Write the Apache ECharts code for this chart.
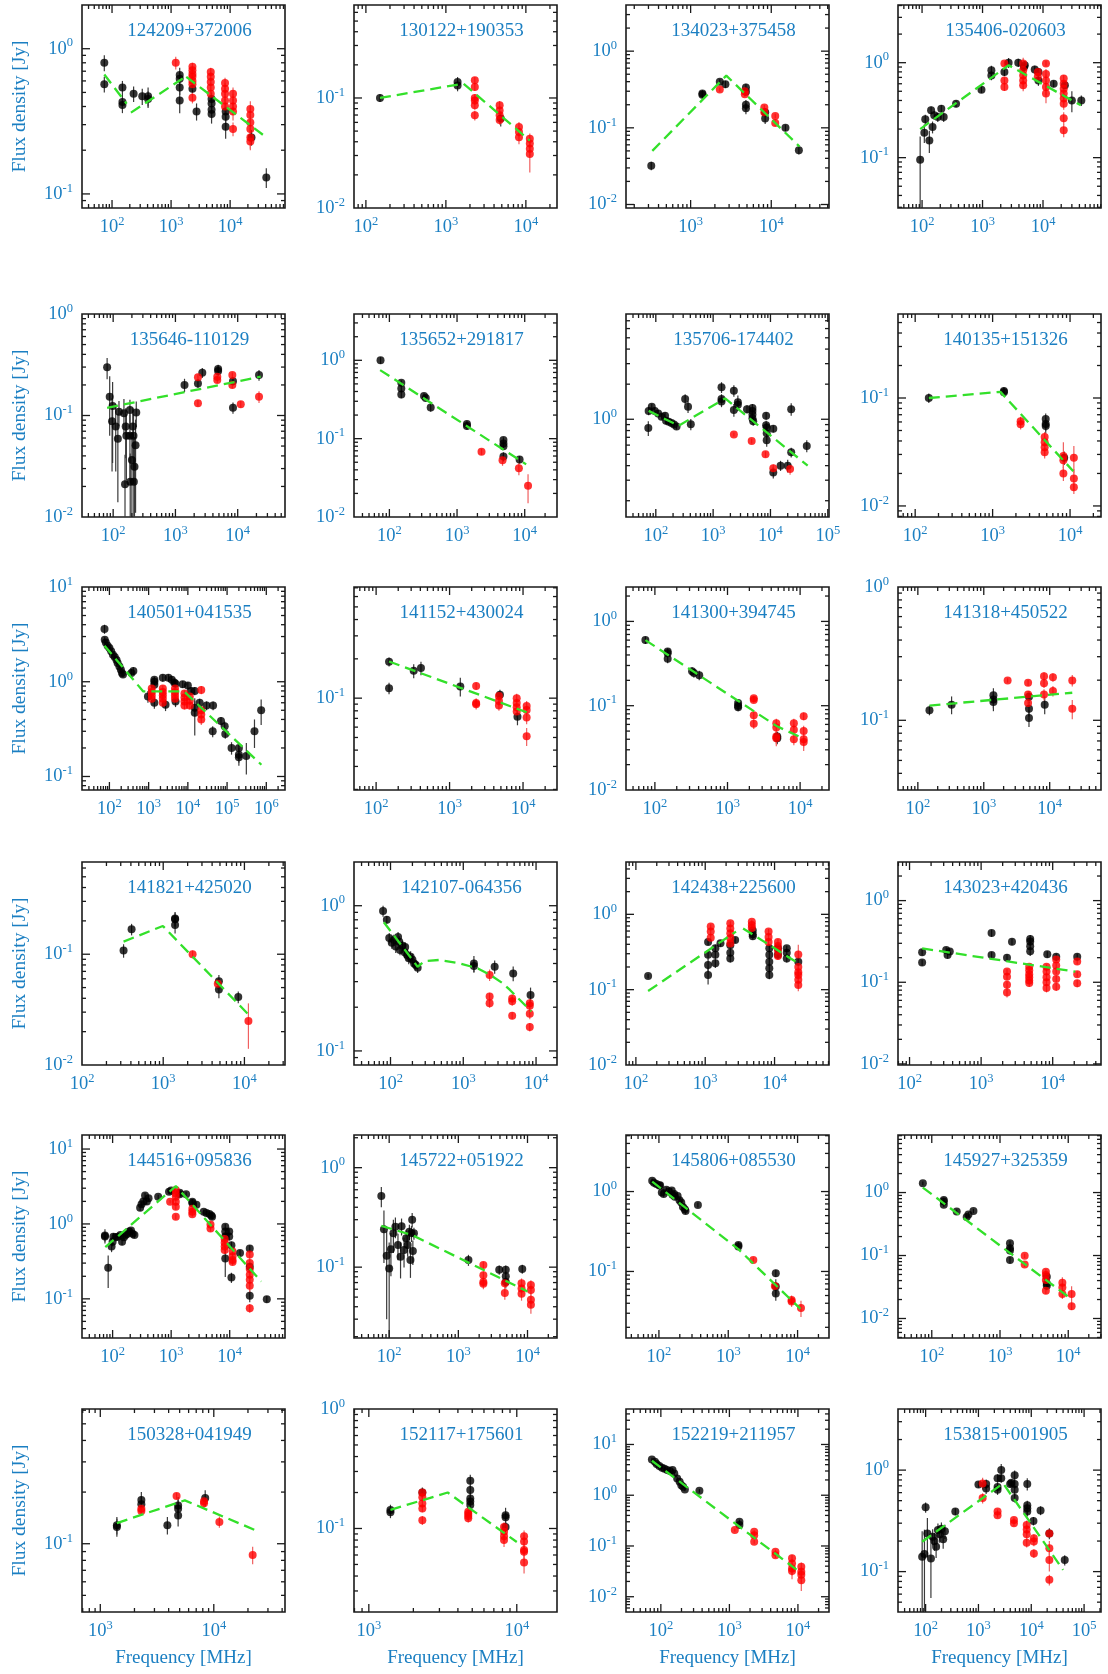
<!DOCTYPE html>
<html>
<head>
<meta charset="utf-8">
<script src="https://cdn.jsdelivr.net/npm/echarts@6/dist/echarts.min.js"></script>
<style>
html,body{margin:0;padding:0;background:#fff;}
#chart{width:1108px;height:1674px;}
</style>
</head>
<body>
<div id="chart"></div>
<script>
// Radio spectra (flux density vs frequency) of 24 sources.
// Each point: [frequency MHz, flux density Jy, error Jy]. Fits: list of polyline segments.

const titles = ['124209+372006','130122+190353','134023+375458','135406-020603',
  '135646-110129','135652+291817','135706-174402','140135+151326',
  '140501+041535','141152+430024','141300+394745','141318+450522',
  '141821+425020','142107-064356','142438+225600','143023+420436',
  '144516+095836','145722+051922','145806+085530','145927+325359',
  '150328+041949','152117+175601','152219+211957','153815+001905'];

const xRanges = [[31,85000],[71,24500],[158,52000],[40,91000],
  [31.6,57500],[30,30000],[30.2,105000],[60,25100],
  [20,3.0e6],[50,29000],[40,25000],[50,60000],
  [100,31600],[31.5,19400],[72,61000],[69,47300],
  [30,88000],[31,26700],[33.5,28400],[32,30200],
  [690,42400],[794,18700],[31,28400],[30,209000]];

const yRanges = [[0.08,2.0],[0.01,0.70],[0.009,4.0],[0.0295,4.05],
  [0.01,1.0],[0.01,3.9],[0.145,8.0],[0.0079,0.6],
  [0.072,10.0],[0.0198,0.71],[0.01,2.56],[0.03,1.0],
  [0.01,0.68],[0.08,2.0],[0.01,4.95],[0.0097,2.97],
  [0.03,15.4],[0.0194,2.13],[0.0147,5.1],[0.0049,8.2],
  [0.04,0.61],[0.02,1.0],[0.005,50],[0.04,4.0]];

const black1 = [[74,0.80,0.10],[74,0.57,0.07],[150,0.54,0.06],[150,0.43,0.05],[150,0.41,0.05],[232,0.49,0.06],[325,0.47,0.06],[408,0.47,0.07],[408,0.45,0.06],[1400,0.66,0.08],[1400,0.62,0.07],[1400,0.54,0.06],[1400,0.44,0.08],[2300,0.53,0.05],[2700,0.37,0.05],[4850,0.45,0.05],[4850,0.42,0.05],[4850,0.38,0.05],[4850,0.355,0.05],[8400,0.37,0.05],[8400,0.34,0.05],[8400,0.29,0.05],[23000,0.245,0.03],[41000,0.13,0.02]];
const red1 = [[1200,0.80,0.08],[2300,0.75,0.05],[2300,0.71,0.05],[2300,0.67,0.05],[2300,0.64,0.05],[2300,0.60,0.05],[2300,0.57,0.05],[2300,0.46,0.04],[4700,0.69,0.05],[4700,0.64,0.05],[4700,0.59,0.05],[4700,0.54,0.05],[4700,0.49,0.05],[8200,0.58,0.05],[8200,0.53,0.05],[8200,0.49,0.05],[8200,0.44,0.05],[8200,0.40,0.05],[11200,0.49,0.05],[11200,0.44,0.05],[11200,0.40,0.05],[11200,0.37,0.05],[11200,0.28,0.03],[22000,0.385,0.05],[22000,0.35,0.05],[22000,0.31,0.05],[22000,0.28,0.05],[22000,0.245,0.04],[22000,0.23,0.03]];
const fit1 = [[[74,0.665],[177,0.418]],[[209,0.363],[1640,0.63]],[[1810,0.64],[41700,0.244]]];

const black2 = [[150,0.10,0.008],[1400,0.14,0.015],[1400,0.13,0.015],[4850,0.065,0.01]];
const red2 = [[2300,0.145,0.01],[2300,0.126,0.01],[2300,0.10,0.008],[2300,0.095,0.008],[2300,0.086,0.008],[2300,0.0695,0.007],[4700,0.086,0.008],[4700,0.077,0.007],[4700,0.0695,0.006],[4700,0.063,0.006],[8200,0.0545,0.006],[8200,0.049,0.005],[8200,0.044,0.006],[11200,0.0425,0.005],[11200,0.0385,0.005],[11200,0.0346,0.005],[11200,0.031,0.01]];
const fit2 = [[[150,0.10],[1660,0.135],[11200,0.041]]];

const black3 = [[325,0.032,0.004],[1400,0.28,0.03],[1400,0.27,0.03],[2300,0.40,0.03],[2700,0.37,0.04],[4850,0.335,0.04],[4850,0.295,0.03],[4850,0.20,0.03],[4850,0.18,0.03],[8400,0.16,0.02],[8400,0.132,0.02],[15000,0.10,0.01],[22000,0.051,0.006]];
const red3 = [[2300,0.315,0.02],[4700,0.30,0.02],[4700,0.274,0.02],[8200,0.184,0.015],[8200,0.16,0.015],[11200,0.143,0.01],[11200,0.116,0.01]];
const fit3 = [[[335,0.05],[2770,0.48],[22400,0.057]]];

const black4 = [[93,0.095,0.072],[109,0.183,0.04],[113,0.253,0.03],[132,0.152,0.04],[141,0.315,0.03],[149,0.21,0.03],[159,0.279,0.03],[182,0.268,0.03],[208,0.328,0.03],[228,0.268,0.03],[365,0.37,0.03],[960,0.52,0.04],[1400,0.83,0.1],[1400,0.735,0.08],[2300,0.80,0.08],[2700,1.0,0.12],[3900,1.0,0.1],[4850,0.9,0.1],[5000,0.94,0.1],[7300,0.85,0.08],[8400,0.80,0.08],[8400,0.65,0.08],[15000,0.60,0.05],[23000,0.58,0.05],[30000,0.40,0.1],[43000,0.40,0.05]];
const red4 = [[2300,0.98,0.06],[2300,0.65,0.05],[2300,0.555,0.05],[4700,0.98,0.15],[4700,0.83,0.1],[4700,0.735,0.1],[4700,0.65,0.1],[4700,0.58,0.08],[8200,0.80,0.06],[8200,0.71,0.06],[11200,0.98,0.06],[11200,0.76,0.1],[11200,0.65,0.1],[11200,0.555,0.1],[11200,0.475,0.1],[22000,0.68,0.06],[22000,0.60,0.06],[22000,0.53,0.06],[22000,0.475,0.06],[22000,0.42,0.06],[22000,0.37,0.05],[22000,0.26,0.04],[22000,0.194,0.03]];
const fit4 = [[[93,0.20],[2700,0.94],[42200,0.356]]];

const black5 = [[80,0.298,0.07],[88,0.153,0.09],[98,0.124,0.09],[96,0.088,0.06],[110,0.078,0.05],[119,0.059,0.045],[124,0.109,0.03],[149,0.105,0.04],[155,0.021,0.02],[159,0.078,0.04],[163,0.063,0.04],[186,0.113,0.03],[186,0.063,0.04],[188,0.0223,0.02],[200,0.0365,0.03],[207,0.078,0.04],[212,0.063,0.04],[215,0.0223,0.02],[220,0.0313,0.03],[229,0.051,0.04],[235,0.107,0.03],[1400,0.20,0.03],[2300,0.207,0.02],[2700,0.264,0.03],[4850,0.287,0.03],[4850,0.275,0.03],[8400,0.217,0.02],[8400,0.119,0.015],[22000,0.25,0.03]];
const red5 = [[2300,0.238,0.015],[2300,0.132,0.01],[4700,0.241,0.015],[4700,0.224,0.015],[8200,0.25,0.015],[8200,0.20,0.015],[11200,0.129,0.01],[22000,0.153,0.02]];
const fit5 = [[[80,0.119],[23400,0.241]]];

const black6 = [[74,1.0,0.1],[150,0.517,0.04],[150,0.438,0.04],[150,0.367,0.04],[325,0.35,0.03],[345,0.33,0.03],[408,0.25,0.03],[1400,0.154,0.015],[1400,0.145,0.015],[4850,0.096,0.008],[4850,0.087,0.008],[4850,0.08,0.008],[4850,0.059,0.008],[8400,0.054,0.006]];
const red6 = [[2300,0.068,0.006],[4700,0.053,0.008],[8200,0.042,0.008],[11200,0.025,0.01]];
const fit6 = [[[73,0.75],[10500,0.047]]];

const black7 = [[74,0.84,0.12],[75,1.18,0.1],[85,1.28,0.08],[96,1.18,0.08],[110,1.12,0.08],[126,1.05,0.06],[145,1.07,0.08],[151,0.97,0.06],[168,0.95,0.05],[188,0.93,0.05],[208,0.90,0.05],[230,0.865,0.05],[325,1.49,0.15],[365,1.28,0.15],[408,0.905,0.1],[1400,1.88,0.2],[1400,1.49,0.15],[1400,1.42,0.15],[2300,1.76,0.2],[2300,1.2,0.15],[2700,1.4,0.2],[2700,1.33,0.15],[3900,1.22,0.1],[4850,1.25,0.1],[4850,1.18,0.1],[4850,1.1,0.1],[4850,1.02,0.1],[5000,0.96,0.08],[8400,1.07,0.08],[8400,0.89,0.08],[8600,0.85,0.08],[8600,0.76,0.1],[8600,0.66,0.08],[11200,0.83,0.06],[11200,0.35,0.04],[15000,0.40,0.04],[20000,0.40,0.05],[23000,0.52,0.05],[23000,1.22,0.15],[43000,0.59,0.07]];
const red7 = [[2300,0.74,0.03],[4700,0.65,0.03],[8200,0.50,0.03],[11200,0.38,0.03],[22000,0.374,0.04]];
const fit7 = [[[75,1.18],[250,0.88],[1620,1.51],[44600,0.40]]];

const black8 = [[150,0.10,0.01],[1400,0.116,0.01],[1400,0.113,0.01],[4850,0.064,0.008],[4850,0.0575,0.008],[4850,0.055,0.008],[8400,0.028,0.004]];
const red8 = [[2300,0.061,0.006],[2300,0.057,0.006],[4700,0.0435,0.005],[4700,0.039,0.005],[4700,0.035,0.005],[4700,0.0315,0.004],[8200,0.029,0.01],[8200,0.0265,0.004],[8200,0.02,0.003],[11200,0.028,0.008],[11200,0.018,0.004],[11200,0.0149,0.002]];
const fit8 = [[[150,0.10],[1260,0.114],[11000,0.021]]];

const black9 = [[75,3.6,0.4],[76,2.78,0.2],[81,2.6,0.2],[90,2.4,0.15],[100,2.27,0.15],[111,2.1,0.12],[123,1.93,0.1],[137,1.82,0.1],[152,1.7,0.1],[162,1.58,0.08],[180,1.45,0.08],[196,1.34,0.08],[209,1.24,0.08],[222,1.19,0.08],[365,1.24,0.12],[408,1.3,0.12],[960,0.7,0.1],[1400,1.05,0.08],[1400,1.0,0.08],[1400,0.93,0.08],[1400,0.6,0.08],[2300,1.1,0.1],[2700,0.57,0.08],[3200,1.1,0.1],[3900,1.05,0.1],[4500,0.98,0.1],[4850,0.95,0.08],[4850,0.62,0.08],[7400,0.94,0.08],[10000,0.91,0.08],[12000,0.8,0.08],[15000,0.8,0.08],[15000,0.53,0.1],[15000,0.47,0.2],[20000,0.6,0.06],[30000,0.56,0.06],[43000,0.3,0.04],[44000,0.56,0.06],[70000,0.385,0.04],[87000,0.34,0.04],[90000,0.28,0.03],[130000,0.2,0.03],[200000,0.17,0.03],[200000,0.16,0.03],[200000,0.2,0.02],[310000,0.165,0.06],[500000,0.3,0.1],[740000,0.5,0.15]];
const red9 = [[1200,0.85,0.06],[1200,0.78,0.06],[1200,0.72,0.06],[1200,0.66,0.06],[2300,0.85,0.06],[2300,0.78,0.06],[2300,0.72,0.06],[2300,0.66,0.06],[2300,0.6,0.05],[4700,0.85,0.06],[4700,0.78,0.06],[4700,0.72,0.06],[4700,0.66,0.05],[8200,0.75,0.06],[8200,0.68,0.05],[8200,0.62,0.05],[8200,0.56,0.05],[11200,0.7,0.05],[11200,0.63,0.05],[11200,0.56,0.05],[22000,0.82,0.08],[22000,0.5,0.06],[22000,0.45,0.06],[22000,0.4,0.05]];
const fit9 = [[[75,2.4],[730,0.79],[8000,0.79],[750000,0.133]]];

const black10 = [[150,0.19,0.015],[150,0.119,0.012],[325,0.162,0.02],[408,0.17,0.02],[1400,0.123,0.02],[4850,0.106,0.01],[8400,0.072,0.01]];
const red10 = [[2300,0.124,0.008],[2300,0.092,0.008],[2300,0.09,0.008],[4700,0.104,0.008],[4700,0.095,0.008],[4700,0.088,0.008],[8200,0.10,0.008],[8200,0.092,0.008],[8200,0.085,0.008],[8200,0.079,0.008],[11200,0.087,0.008],[11200,0.081,0.008],[11200,0.071,0.008],[11200,0.051,0.008]];
const fit10 = [[[150,0.191],[11200,0.078]]];

const black11 = [[74,0.60,0.06],[150,0.44,0.04],[150,0.42,0.04],[150,0.36,0.04],[325,0.256,0.03],[345,0.245,0.03],[408,0.23,0.03],[1400,0.108,0.01],[1400,0.10,0.01],[1400,0.096,0.01],[4850,0.043,0.006],[4850,0.041,0.006]];
const red11 = [[2300,0.123,0.008],[2300,0.117,0.008],[2300,0.077,0.008],[2300,0.061,0.008],[4700,0.062,0.008],[4700,0.055,0.008],[4700,0.043,0.008],[4700,0.041,0.008],[8200,0.062,0.008],[8200,0.052,0.008],[8200,0.04,0.006],[11200,0.075,0.008],[11200,0.05,0.008],[11200,0.04,0.008],[11200,0.037,0.008]];
const fit11 = [[[74,0.60],[4800,0.057],[11000,0.041]]];

const black12 = [[150,0.119,0.01],[325,0.131,0.02],[1400,0.154,0.02],[1400,0.143,0.02],[1400,0.137,0.02],[4850,0.15,0.015],[4850,0.122,0.015],[4850,0.104,0.015],[8400,0.131,0.02]];
const red12 = [[2300,0.199,0.008],[4700,0.191,0.01],[4700,0.156,0.01],[4700,0.135,0.01],[8200,0.214,0.015],[8200,0.19,0.015],[8200,0.156,0.015],[11200,0.21,0.015],[11200,0.166,0.015],[22000,0.199,0.02],[22000,0.122,0.02]];
const fit12 = [[[150,0.129],[22000,0.161]]];

const black13 = [[325,0.108,0.015],[408,0.168,0.02],[1400,0.21,0.03],[1400,0.207,0.03],[1400,0.184,0.03],[4850,0.057,0.008],[4850,0.048,0.008],[8400,0.041,0.005]];
const red13 = [[2300,0.10,0.008],[4700,0.054,0.006],[11200,0.025,0.011]];
const fit13 = [[[325,0.13],[990,0.18],[11500,0.028]]];

const black14 = [[79,0.92,0.08],[89,0.80,0.05],[96,0.60,0.05],[104,0.556,0.05],[111,0.58,0.05],[118,0.523,0.05],[127,0.61,0.05],[132,0.565,0.05],[135,0.496,0.04],[146,0.53,0.04],[156,0.478,0.04],[159,0.52,0.04],[169,0.458,0.04],[178,0.435,0.04],[189,0.446,0.04],[200,0.424,0.04],[211,0.40,0.03],[223,0.39,0.03],[236,0.374,0.03],[1400,0.40,0.05],[1400,0.385,0.04],[2700,0.38,0.04],[4850,0.342,0.04],[8400,0.243,0.03]];
const red14 = [[2300,0.333,0.03],[2300,0.237,0.015],[2300,0.213,0.015],[4700,0.23,0.015],[4700,0.22,0.015],[4700,0.175,0.01],[8200,0.213,0.015],[8200,0.205,0.015],[8200,0.18,0.015],[8200,0.146,0.01]];
const fit14 = [[[81,0.77],[236,0.38],[295,0.416],[463,0.423],[908,0.40],[1590,0.37],[2360,0.333],[3500,0.292],[4380,0.263],[8600,0.187]]];

const black15 = [[150,0.152,0.01],[1100,0.43,0.04],[1100,0.29,0.04],[1100,0.213,0.04],[1100,0.157,0.04],[1400,0.354,0.04],[1400,0.29,0.04],[1400,0.224,0.03],[1660,0.412,0.04],[2300,0.39,0.04],[2300,0.31,0.04],[2300,0.26,0.03],[2700,0.457,0.04],[4850,0.61,0.06],[4850,0.543,0.05],[4850,0.51,0.05],[8400,0.354,0.04],[8400,0.29,0.04],[8400,0.235,0.03],[8400,0.192,0.03],[8400,0.157,0.02],[11200,0.354,0.03],[11200,0.29,0.03],[15000,0.354,0.03],[15000,0.31,0.03],[15000,0.26,0.03],[22000,0.235,0.02]];
const red15 = [[1200,0.69,0.05],[1200,0.59,0.05],[1200,0.49,0.05],[2300,0.76,0.05],[2300,0.65,0.05],[2300,0.56,0.05],[2300,0.48,0.05],[2300,0.41,0.05],[4700,0.80,0.05],[4700,0.72,0.05],[4700,0.66,0.05],[8200,0.59,0.05],[8200,0.50,0.05],[8200,0.43,0.05],[11200,0.43,0.04],[11200,0.38,0.04],[11200,0.33,0.04],[11200,0.28,0.03],[22000,0.294,0.1],[22000,0.20,0.03],[22000,0.17,0.03],[22000,0.157,0.03],[22000,0.135,0.03],[22000,0.115,0.02]];
const fit15 = [[[150,0.096],[2780,0.59]],[[3520,0.65],[22000,0.224]]];

const black16 = [[150,0.233,0.02],[150,0.174,0.015],[325,0.248,0.02],[340,0.215,0.02],[365,0.238,0.02],[1400,0.40,0.04],[1400,0.215,0.02],[2300,0.20,0.02],[2700,0.314,0.03],[4850,0.339,0.04],[4850,0.315,0.04],[4850,0.276,0.03],[4850,0.24,0.03],[8400,0.22,0.02],[11200,0.205,0.02],[22000,0.205,0.02]];
const red16 = [[2300,0.135,0.01],[2300,0.117,0.01],[2300,0.093,0.01],[2300,0.075,0.01],[4700,0.155,0.01],[4700,0.14,0.01],[4700,0.125,0.01],[4700,0.115,0.01],[4700,0.105,0.01],[4700,0.098,0.01],[8200,0.155,0.01],[8200,0.135,0.01],[8200,0.115,0.01],[8200,0.10,0.01],[8200,0.085,0.01],[11200,0.19,0.01],[11200,0.16,0.01],[11200,0.135,0.01],[11200,0.11,0.01],[11200,0.088,0.01],[22000,0.18,0.015],[22000,0.125,0.01],[22000,0.097,0.01]];
const fit16 = [[[150,0.26],[20700,0.135]]];

const black17 = [[74,0.70,0.15],[74,0.68,0.1],[84,0.26,0.12],[96,0.5,0.08],[100,0.58,0.08],[103,0.675,0.08],[112,0.665,0.06],[123,0.675,0.06],[136,0.71,0.06],[145,0.58,0.06],[156,0.665,0.06],[167,0.71,0.06],[179,0.74,0.06],[192,0.79,0.06],[206,0.82,0.06],[220,0.74,0.06],[236,0.71,0.06],[295,1.65,0.15],[312,1.83,0.15],[334,2.0,0.2],[358,2.4,0.2],[384,2.0,0.2],[411,2.2,0.2],[600,2.3,0.15],[920,2.7,0.2],[1000,2.8,0.2],[1400,2.5,0.2],[1400,2.6,0.2],[1800,2.5,0.2],[2300,1.98,0.15],[2300,1.9,0.15],[2700,1.8,0.15],[3600,1.46,0.1],[4000,1.4,0.1],[4500,1.36,0.1],[4850,1.3,0.1],[5000,1.25,0.1],[8400,0.92,0.08],[8400,0.79,0.08],[8400,0.68,0.08],[8400,0.345,0.15],[9800,0.79,0.08],[9800,0.68,0.08],[10700,0.52,0.06],[10700,0.193,0.03],[15000,0.41,0.04],[22000,0.47,0.05],[22000,0.268,0.04],[22000,0.11,0.02],[43000,0.099,0.01]];
const red17 = [[960,1.98,0.1],[1200,2.83,0.2],[1200,2.55,0.2],[1200,2.3,0.2],[1200,1.98,0.15],[1200,1.7,0.15],[1200,1.25,0.1],[2300,1.6,0.1],[2300,1.45,0.1],[2300,1.35,0.1],[4700,0.98,0.08],[4700,0.87,0.08],[8200,0.63,0.06],[8200,0.56,0.06],[8200,0.5,0.05],[8200,0.45,0.05],[11200,0.43,0.04],[11200,0.37,0.04],[11200,0.33,0.04],[11200,0.31,0.03],[22000,0.39,0.05],[22000,0.3,0.04],[22000,0.25,0.04],[22000,0.21,0.03],[22000,0.18,0.03],[22000,0.15,0.03],[22000,0.075,0.01]];
const fit17 = [[[75,0.49],[1200,3.2],[34600,0.17]]];

const black18 = [[77,0.52,0.12],[84,0.24,0.13],[92,0.13,0.1],[100,0.097,0.08],[106,0.151,0.07],[115,0.219,0.08],[123,0.255,0.06],[134,0.167,0.05],[146,0.127,0.05],[151,0.258,0.05],[164,0.149,0.05],[176,0.195,0.04],[185,0.167,0.04],[196,0.227,0.04],[203,0.118,0.04],[210,0.219,0.04],[215,0.30,0.05],[220,0.145,0.04],[228,0.219,0.03],[1400,0.118,0.015],[3900,0.094,0.01],[4850,0.094,0.01],[4850,0.081,0.01],[4850,0.071,0.01],[8400,0.096,0.01]];
const red18 = [[2300,0.105,0.008],[2300,0.083,0.008],[2300,0.071,0.008],[2300,0.068,0.008],[4700,0.069,0.008],[4700,0.055,0.008],[8200,0.069,0.008],[8200,0.061,0.008],[8200,0.054,0.008],[11200,0.066,0.008],[11200,0.059,0.008],[11200,0.047,0.008],[11200,0.042,0.008]];
const fit18 = [[[77,0.26],[215,0.21],[10000,0.057]]];

const black19 = [[80,1.36,0.1],[85,1.29,0.1],[92,1.24,0.08],[101,1.19,0.08],[104,1.2,0.08],[110,0.97,0.08],[117,0.93,0.08],[128,1.05,0.08],[139,1.0,0.08],[153,1.03,0.08],[157,0.91,0.06],[166,0.93,0.06],[170,0.86,0.06],[186,0.88,0.06],[198,0.78,0.06],[210,0.73,0.05],[222,0.64,0.05],[236,0.60,0.05],[242,0.57,0.05],[365,0.68,0.05],[1400,0.214,0.02],[1400,0.205,0.02],[4850,0.095,0.01],[4850,0.065,0.015],[4850,0.053,0.01]];
const red19 = [[2300,0.139,0.01],[4700,0.066,0.008],[8200,0.044,0.006],[8200,0.042,0.006],[11200,0.035,0.008]];
const fit19 = [[[80,1.33],[1400,0.19],[11000,0.034]]];

const black20 = [[74,1.4,0.1],[150,0.76,0.06],[150,0.72,0.06],[150,0.64,0.05],[232,0.50,0.04],[325,0.41,0.04],[345,0.45,0.04],[408,0.51,0.04],[1400,0.156,0.015],[1400,0.13,0.015],[1400,0.12,0.015],[1400,0.085,0.01],[4850,0.046,0.006],[4850,0.036,0.005],[4850,0.033,0.005]];
const red20 = [[2300,0.099,0.008],[2300,0.072,0.006],[4700,0.055,0.006],[4700,0.049,0.006],[4700,0.041,0.005],[4700,0.0275,0.003],[8200,0.037,0.008],[8200,0.031,0.005],[8200,0.0244,0.004],[11200,0.0244,0.008],[11200,0.0157,0.002]];
const fit20 = [[[74,1.2],[10800,0.0208]]];

const black21 = [[1400,0.125,0.015],[1400,0.128,0.015],[2300,0.18,0.02],[2300,0.17,0.02],[3900,0.128,0.015],[4850,0.167,0.02],[4850,0.16,0.02],[4850,0.146,0.02],[8400,0.185,0.02]];
const red21 = [[2300,0.16,0.008],[2300,0.155,0.008],[4700,0.19,0.008],[8200,0.177,0.01],[8200,0.172,0.01],[11200,0.134,0.01],[22000,0.086,0.01]];
const fit21 = [[[1400,0.132],[5560,0.179],[23200,0.12]]];

const black22 = [[1400,0.143,0.015],[1400,0.137,0.015],[2300,0.20,0.02],[4850,0.251,0.03],[4850,0.21,0.02],[4850,0.178,0.02],[4850,0.168,0.02],[4850,0.157,0.02],[8400,0.129,0.02],[8400,0.124,0.015],[8400,0.103,0.01]];
const red22 = [[2300,0.20,0.01],[2300,0.183,0.01],[2300,0.162,0.01],[2300,0.147,0.01],[2300,0.117,0.01],[4700,0.138,0.01],[4700,0.133,0.01],[4700,0.127,0.01],[4700,0.122,0.01],[8200,0.103,0.01],[8200,0.094,0.01],[8200,0.086,0.01],[8200,0.08,0.01],[11200,0.086,0.01],[11200,0.078,0.01],[11200,0.066,0.01],[11200,0.064,0.01],[11200,0.052,0.01]];
const fit22 = [[[1400,0.143],[3410,0.20],[10000,0.077]]];

const black23 = [[74,5.07,0.4],[82,4.56,0.3],[87,4.1,0.3],[95,3.75,0.2],[104,3.48,0.2],[113,3.32,0.2],[124,3.13,0.2],[136,2.99,0.2],[148,3.13,0.2],[157,2.69,0.2],[173,2.14,0.15],[188,1.84,0.15],[199,1.58,0.1],[211,1.47,0.1],[224,1.3,0.1],[365,1.22,0.1],[1400,0.30,0.03],[1400,0.26,0.03]];
const red23 = [[1200,0.206,0.015],[2300,0.19,0.015],[2300,0.163,0.015],[2300,0.121,0.01],[4700,0.077,0.008],[4700,0.066,0.008],[8200,0.057,0.01],[8200,0.045,0.01],[8200,0.036,0.01],[8200,0.032,0.01],[11200,0.039,0.008],[11200,0.031,0.008],[11200,0.027,0.008],[11200,0.021,0.008]];
const fit23 = [[[74,4.78],[10500,0.031]]];

const black24 = [[86,0.14,0.11],[95,0.149,0.11],[100,0.43,0.05],[108,0.238,0.1],[126,0.135,0.08],[136,0.221,0.04],[147,0.20,0.04],[158,0.176,0.04],[171,0.257,0.04],[185,0.232,0.04],[199,0.265,0.04],[215,0.208,0.04],[232,0.25,0.04],[365,0.39,0.03],[1000,0.72,0.05],[1400,0.73,0.08],[1400,0.66,0.08],[2300,0.83,0.08],[2300,0.68,0.07],[2300,0.64,0.07],[2700,1.0,0.15],[2700,0.83,0.08],[3980,0.73,0.06],[4200,0.75,0.06],[4850,0.89,0.1],[4850,0.73,0.08],[4850,0.64,0.08],[4850,0.53,0.05],[8400,0.73,0.1],[8400,0.45,0.05],[8400,0.42,0.05],[8400,0.39,0.04],[11000,0.315,0.03],[15000,0.40,0.04],[22000,0.238,0.03],[43000,0.13,0.015]];
const red24 = [[1200,0.74,0.1],[1200,0.53,0.06],[2300,0.39,0.02],[2300,0.36,0.02],[4700,0.322,0.02],[4700,0.30,0.02],[8200,0.288,0.03],[8200,0.26,0.03],[8200,0.233,0.03],[8200,0.193,0.02],[11200,0.213,0.02],[11200,0.198,0.02],[11200,0.151,0.015],[22000,0.238,0.02],[22000,0.17,0.03],[22000,0.13,0.03],[22000,0.083,0.01]];
const fit24 = [[[86,0.197],[2930,0.74],[40000,0.104]]];

const blackSets = [black1,black2,black3,black4,black5,black6,black7,black8,black9,black10,black11,black12,black13,black14,black15,black16,black17,black18,black19,black20,black21,black22,black23,black24];
const redSets = [red1,red2,red3,red4,red5,red6,red7,red8,red9,red10,red11,red12,red13,red14,red15,red16,red17,red18,red19,red20,red21,red22,red23,red24];
const fitSets = [fit1,fit2,fit3,fit4,fit5,fit6,fit7,fit8,fit9,fit10,fit11,fit12,fit13,fit14,fit15,fit16,fit17,fit18,fit19,fit20,fit21,fit22,fit23,fit24];

// ---- layout & style ----
const BLUE = '#1b7fc2';
const GREEN = '#33e02a';
const FONT = '"Liberation Serif", "Times New Roman", serif';
const colLeft = [82, 354, 626, 898];
const rowTop = [5, 314, 587, 862, 1135, 1409];
const PW = 203, PH = 203;

// "10" in the base label style, exponent as a raised smaller token
const labelRich = {
  s: {fontSize: 12.5, fontFamily: FONT, color: BLUE, lineHeight: 12, verticalAlign: 'top'}
};
function decadeLabel(v) {
  const e = Math.log10(v);
  const r = Math.round(e);
  if (Math.abs(e - r) > 1e-6) return '';
  return '10{s|' + r + '}';
}
// log tick values (1..9 x 10^k) inside a range, flagged major for decades
function logTicks(min, max) {
  const out = [];
  for (let k = Math.floor(Math.log10(min)) - 1; k <= Math.ceil(Math.log10(max)); k++) {
    for (let m = 1; m <= 9; m++) {
      const v = m * Math.pow(10, k);
      if (v >= min * 1.0001 && v <= max * 0.9999) out.push([v, m === 1 ? 1 : 0]);
    }
  }
  return out;
}
const TICK_STYLE = {stroke: '#1a1a1a', lineWidth: 1.3};
function xTickRender(params, api) {
  const cs = params.coordSys;
  const px = api.coord([api.value(0), api.value(1)])[0];
  const len = api.value(2) ? 8 : 4;
  const yb = cs.y + cs.height, yt = cs.y;
  return {type: 'group', children: [
    {type: 'line', shape: {x1: px, y1: yb, x2: px, y2: yb - len}, style: TICK_STYLE},
    {type: 'line', shape: {x1: px, y1: yt, x2: px, y2: yt + len}, style: TICK_STYLE}
  ]};
}
function yTickRender(params, api) {
  const cs = params.coordSys;
  const py = api.coord([api.value(0), api.value(1)])[1];
  const len = api.value(2) ? 8 : 4;
  const xl = cs.x, xr = cs.x + cs.width;
  return {type: 'group', children: [
    {type: 'line', shape: {x1: xl, y1: py, x2: xl + len, y2: py}, style: TICK_STYLE},
    {type: 'line', shape: {x1: xr, y1: py, x2: xr - len, y2: py}, style: TICK_STYLE}
  ]};
}
function errRender(color) {
  return function (params, api) {
    const x = api.value(0);
    const a = api.coord([x, api.value(1)]);
    const b = api.coord([x, api.value(2)]);
    return {type: 'line', shape: {x1: a[0], y1: a[1], x2: b[0], y2: b[1]}, style: {stroke: color, lineWidth: 1.2}};
  };
}
function errData(pts) {
  return pts.map(p => [p[0], Math.max(p[1] - p[2], 1e-6), p[1] + p[2]]);
}

const option = {animation: false, backgroundColor: '#fff', grid: [], xAxis: [], yAxis: [], series: [], graphic: []};

for (let i = 0; i < 24; i++) {
  const col = i % 4, row = Math.floor(i / 4);
  const left = colLeft[col], top = rowTop[row];
  const xr = xRanges[i], yr = yRanges[i];
  option.grid.push({left: left, top: top, width: PW, height: PH, show: true, borderColor: '#1a1a1a', borderWidth: 1.6});
  option.xAxis.push({
    type: 'log', logBase: 10, gridIndex: i, min: xr[0], max: xr[1],
    axisLine: {show: false}, axisTick: {show: false}, splitLine: {show: false},
    axisLabel: {formatter: decadeLabel, rich: labelRich, margin: 7, color: BLUE, fontSize: 18.5, fontFamily: FONT, lineHeight: 24},
    name: row === 5 ? 'Frequency [MHz]' : '', nameLocation: 'middle', nameGap: 37,
    nameTextStyle: {fontSize: 19, fontFamily: FONT, color: BLUE}
  });
  option.yAxis.push({
    type: 'log', logBase: 10, gridIndex: i, min: yr[0], max: yr[1],
    axisLine: {show: false}, axisTick: {show: false}, splitLine: {show: false},
    axisLabel: {formatter: decadeLabel, rich: labelRich, margin: 9, color: BLUE, fontSize: 18.5, fontFamily: FONT, lineHeight: 24},
    name: col === 0 ? 'Flux density [Jy]' : '', nameLocation: 'middle', nameGap: 52, nameRotate: 90,
    nameTextStyle: {fontSize: 19.5, fontFamily: FONT, color: BLUE}
  });
  const ax = {xAxisIndex: i, yAxisIndex: i};
  option.series.push(Object.assign({
    type: 'custom', silent: true, z: 5, dimensions: ['x', 'y', 'm'], encode: {x: 0, y: 1},
    data: logTicks(xr[0], xr[1]).map(t => [t[0], yr[0], t[1]]), renderItem: xTickRender
  }, ax));
  option.series.push(Object.assign({
    type: 'custom', silent: true, z: 5, dimensions: ['x', 'y', 'm'], encode: {x: 0, y: 1},
    data: logTicks(yr[0], yr[1]).map(t => [xr[0], t[0], t[1]]), renderItem: yTickRender
  }, ax));
  option.series.push(Object.assign({
    type: 'custom', silent: true, clip: true, dimensions: ['x', 'lo', 'hi'], encode: {x: 0, y: [1, 2]},
    data: errData(blackSets[i]), renderItem: errRender('#3a3a3a')
  }, ax));
  option.series.push(Object.assign({
    type: 'custom', silent: true, clip: true, dimensions: ['x', 'lo', 'hi'], encode: {x: 0, y: [1, 2]},
    data: errData(redSets[i]), renderItem: errRender('#f06060')
  }, ax));
  option.series.push(Object.assign({
    type: 'scatter', silent: true, symbol: 'circle', symbolSize: 8,
    itemStyle: {color: '#000'}, data: blackSets[i].map(p => [p[0], p[1]])
  }, ax));
  option.series.push(Object.assign({
    type: 'scatter', silent: true, symbol: 'circle', symbolSize: 8,
    itemStyle: {color: '#ff0000'}, data: redSets[i].map(p => [p[0], p[1]])
  }, ax));
  fitSets[i].forEach(seg => {
    option.series.push(Object.assign({
      type: 'line', silent: true, symbol: 'none', showSymbol: false, z: 4, clip: true,
      lineStyle: {color: GREEN, width: 2.3, type: [11, 6]}, data: seg
    }, ax));
  });
  option.graphic.push({
    type: 'text', x: left + PW / 2 + 6, y: top + 26, silent: true,
    style: {text: titles[i], fill: BLUE, fontSize: 19, fontFamily: FONT, align: 'center', verticalAlign: 'middle'}
  });
}

const chart = echarts.init(document.getElementById('chart'), null, {renderer: 'canvas'});
chart.setOption(option);
</script>
</body>
</html>
